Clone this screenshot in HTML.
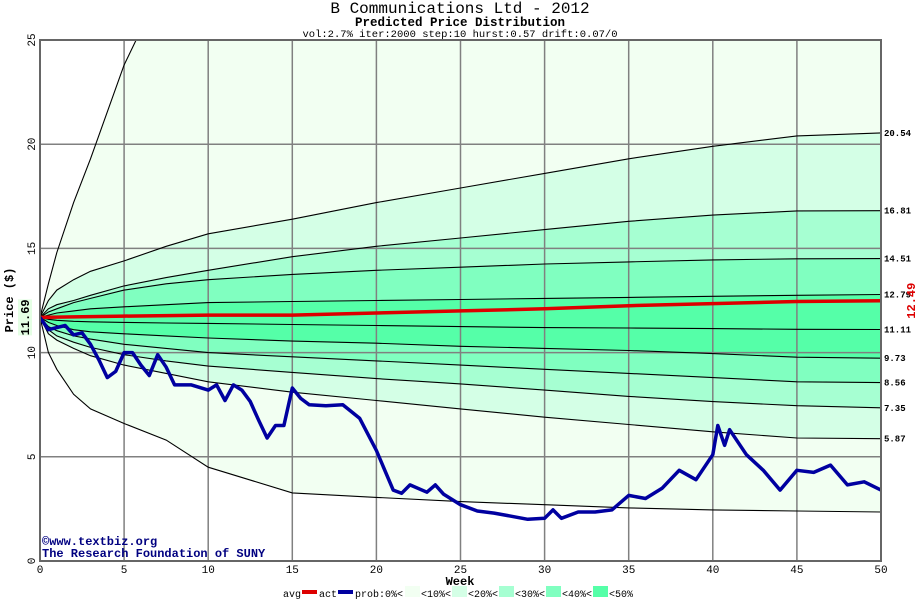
<!DOCTYPE html>
<html><head><meta charset="utf-8"><style>
body{margin:0;background:#fff;width:920px;height:600px;overflow:hidden}
svg text{font-family:"Liberation Mono",monospace}
</style></head><body>
<svg id="c" width="920" height="600" xmlns="http://www.w3.org/2000/svg">
<defs><clipPath id="pc"><rect x="40" y="40" width="841" height="521"/></clipPath></defs>
<text x="460" y="13" font-size="16" text-anchor="middle">B Communications Ltd - 2012</text>
<text x="460" y="26" font-size="12.5" font-weight="bold" text-anchor="middle">Predicted Price Distribution</text>
<text x="460" y="37" font-size="10.5" text-anchor="middle">vol:2.7% iter:2000 step:10 hurst:0.57 drift:0.07/0</text>
<g id="fills" clip-path="url(#pc)"></g>
<g id="grid"></g>
<g id="lines" clip-path="url(#pc)"></g>
<g id="ticks"></g>
<text x="42" y="545" font-size="12" font-weight="bold" fill="#000080">©www.textbiz.org</text>
<text x="42" y="557" font-size="12" font-weight="bold" fill="#000080">The Research Foundation of SUNY</text>
<rect x="40" y="40" width="841" height="521" fill="none" stroke="#666" stroke-width="2"/>
<text transform="translate(13,300) rotate(-90)" font-size="12" font-weight="bold" text-anchor="middle">Price ($)</text>
<text x="460" y="585" font-size="12" font-weight="bold" text-anchor="middle">Week</text>
<g id="legend"></g>
</svg>
<script>
const weeks=[0,0.5,1,2,3,5,7.5,10,15,20,25,30,35,40,45,50];
const U0=[11.69,13.3,14.8,17.2,19.3,23.8,28,31,35,38,40,42,44,46,48,50];
const U1=[11.69,12.5,13.0,13.5,13.9,14.4,15.1,15.7,16.4,17.2,17.9,18.6,19.3,19.9,20.4,20.54];
const U2=[11.69,12.1,12.3,12.5,12.75,13.2,13.6,13.95,14.6,15.1,15.5,15.9,16.3,16.6,16.8,16.81];
const U3=[11.69,11.95,12.1,12.4,12.6,13.0,13.3,13.5,13.75,13.95,14.1,14.25,14.35,14.45,14.5,14.51];
const U4=[11.69,11.8,11.9,12.0,12.1,12.2,12.3,12.4,12.45,12.5,12.55,12.6,12.65,12.7,12.75,12.79];
const MED=[11.69,11.6,11.55,11.5,11.48,11.45,11.42,11.4,11.35,11.3,11.25,11.2,11.18,11.15,11.12,11.11];
const L4=[11.69,11.45,11.3,11.1,11.0,10.9,10.8,10.7,10.55,10.45,10.3,10.2,10.1,9.95,9.78,9.73];
const L3=[11.69,11.25,11.05,10.8,10.65,10.4,10.2,10.0,9.8,9.6,9.4,9.2,9.0,8.8,8.6,8.56];
const L2=[11.69,11.1,10.8,10.5,10.25,9.9,9.6,9.35,9.05,8.75,8.5,8.2,7.9,7.65,7.45,7.35];
const L1=[11.69,10.9,10.6,10.2,9.85,9.4,9.0,8.6,8.1,7.7,7.3,6.9,6.55,6.2,5.9,5.87];
const L0=[11.69,10.0,9.2,8.0,7.3,6.6,5.8,4.5,3.27,3.05,2.85,2.7,2.55,2.45,2.4,2.35];
const avgWeeks=[0,5,10,15,20,25,30,35,40,45,50];
const avgVals=[11.69,11.75,11.8,11.8,11.9,12.0,12.1,12.25,12.35,12.45,12.49];
const actWeeks=[0,0.5,1,1.5,2,2.5,3,3.5,4,4.5,5,5.5,6,6.5,7,7.5,8,9,10,10.5,11,11.5,12,12.5,13,13.5,14,14.5,15,15.5,16,17,18,19,20,21,21.5,22,23,23.5,24,25,26,27,28,29,30,30.5,31,32,33,34,35,36,37,38,39,40,40.3,40.7,41,42,43,44,45,46,47,48,49,50];
const actVals=[11.69,11.1,11.2,11.3,10.85,10.95,10.4,9.65,8.8,9.1,10.0,10.0,9.4,8.9,9.9,9.3,8.45,8.45,8.2,8.45,7.7,8.45,8.2,7.65,6.75,5.9,6.5,6.5,8.3,7.8,7.5,7.45,7.5,6.85,5.3,3.4,3.25,3.65,3.3,3.65,3.2,2.7,2.4,2.3,2.15,2.0,2.05,2.45,2.05,2.35,2.35,2.45,3.15,3.0,3.5,4.35,3.9,5.1,6.5,5.55,6.3,5.1,4.35,3.4,4.35,4.25,4.6,3.65,3.8,3.4];
const endLabels=["20.54","16.81","14.51","12.79","11.11","9.73","8.56","7.35","5.87"];
const yTicks=[0,5,10,15,20,25];
const xTicks=[0,5,10,15,20,25,30,35,40,45,50];
const bandColors=["#f2fff2","#d4ffe6","#a6ffd2","#80ffc0","#55ffa8","#80ffc0","#a6ffd2","#d4ffe6","#f2fff2"];
const X=w=>40+w*841/50, Y=v=>561-v*521/25;
const NS="http://www.w3.org/2000/svg";
function mk(t,a,p){const e=document.createElementNS(NS,t);for(const k in a)e.setAttribute(k,a[k]);p.appendChild(e);return e;}
const pts=(ws,vs)=>ws.map((w,i)=>X(w).toFixed(1)+","+Y(vs[i]).toFixed(1));
const bounds=[U0,U1,U2,U3,U4,L4,L3,L2,L1,L0];
const fills=document.getElementById('fills');
for(let i=0;i<bounds.length-1;i++){
  const p=pts(weeks,bounds[i]).concat(pts(weeks,bounds[i+1]).reverse());
  const e=mk('polygon',{points:p.join(' '),fill:bandColors[i]},fills);
  
  
}
const grid=document.getElementById('grid'), ticks=document.getElementById('ticks');
xTicks.forEach(w=>{
  const l=mk('line',{x1:X(w),x2:X(w),y1:40,y2:561,stroke:'#808080','stroke-width':1.5},grid);
  
  
  const t=mk('text',{x:X(w),y:573,'font-size':11,'text-anchor':'middle'},ticks);t.textContent=w;
  
  
});
yTicks.forEach(v=>{
  const l=mk('line',{x1:40,x2:881,y1:Y(v),y2:Y(v),stroke:'#808080','stroke-width':1.5},grid);
  
  
  const t=mk('text',{transform:`translate(35,${Y(v)}) rotate(-90)`,'font-size':11,'text-anchor':'middle'},ticks);t.textContent=v;
  
  
});
const lines=document.getElementById('lines');
[U0,U1,U2,U3,U4,MED,L4,L3,L2,L1,L0].forEach(a=>{
  const e=mk('polyline',{points:pts(weeks,a).join(' '),fill:'none',stroke:'#000','stroke-width':1.1},lines);
  
  
});
const av=mk('polyline',{points:pts(avgWeeks,avgVals).join(' '),fill:'none',stroke:'#dd0000','stroke-width':3.5},lines);


const ac=mk('polyline',{points:pts(actWeeks,actVals).join(' '),fill:'none',stroke:'#0000a0','stroke-width':3.5,'stroke-linejoin':'round'},lines);


const lastVals=[U1,U2,U3,U4,MED,L4,L3,L2,L1].map(a=>a[a.length-1]);
lastVals.forEach((v,i)=>{
  const t=mk('text',{x:884,y:Y(v)+3,'font-size':9,'font-weight':'bold'},ticks);t.textContent=endLabels[i];
  
  
});
const ae=mk('text',{transform:`translate(915,${Y(avgVals[avgVals.length-1])}) rotate(-90)`,'font-size':12,'font-weight':'bold',fill:'#dd0000','text-anchor':'middle'},ticks);
ae.textContent=avgVals[avgVals.length-1].toFixed(2);


const sy=Y(U0[0]);
const sb=mk('rect',{x:18,y:sy-18,width:14,height:36,fill:'#e4ffe4'},ticks);


const st=mk('text',{transform:`translate(29,${sy}) rotate(-90)`,'font-size':12,'font-weight':'bold','text-anchor':'middle'},ticks);
st.textContent=U0[0].toFixed(2);


const lg=document.getElementById('legend');
function lt(x,s,n){const t=mk('text',{x:x,y:597,'font-size':10,textLength:s.length*6,lengthAdjust:'spacingAndGlyphs'},lg);t.textContent=s;}
function sw(x,c,h,n){const r=mk('rect',{x:x,y:h?590:586,width:15,height:h?4:11,fill:c},lg);}
lt(283,'avg','legend-avg-label');sw(302,'#dd0000',1,'legend-avg-swatch');
lt(319,'act','legend-act-label');sw(338,'#0000a0',1,'legend-act-swatch');
lt(355,'prob:0%<','legend-prob-label');
sw(405,'#f2fff2',0,'legend-swatch-10');lt(421,'<10%<','legend-label-10');
sw(452,'#d4ffe6',0,'legend-swatch-20');lt(468,'<20%<','legend-label-20');
sw(499,'#a6ffd2',0,'legend-swatch-30');lt(515,'<30%<','legend-label-30');
sw(546,'#80ffc0',0,'legend-swatch-40');lt(562,'<40%<','legend-label-40');
sw(593,'#55ffa8',0,'legend-swatch-50');lt(609,'<50%','legend-label-50');
</script>
</body></html>
